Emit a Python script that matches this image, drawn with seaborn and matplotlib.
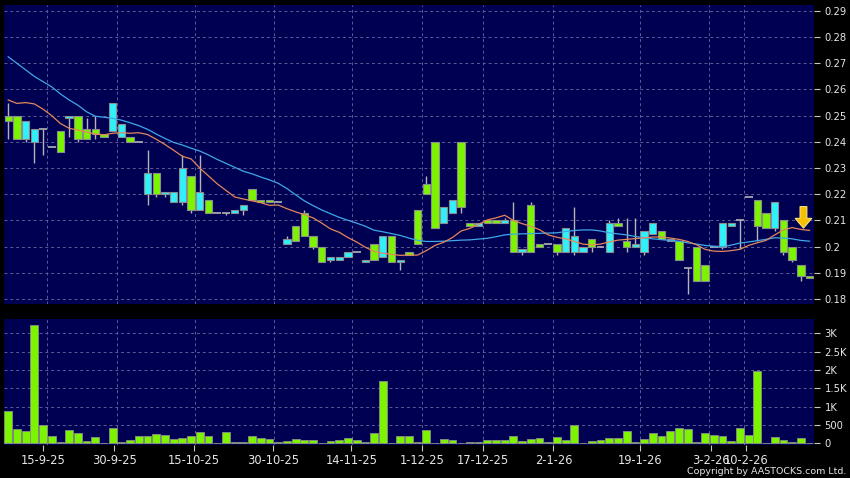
import numpy as np
import pandas as pd
import matplotlib
matplotlib.use("Agg")
import matplotlib.pyplot as plt
import seaborn as sns

# ---------------- data ----------------
opens = [0.250, 0.250, 0.241, 0.240, 0.245, 0.238, 0.244, 0.249, 0.250, 0.245,
         0.245, 0.243, 0.244, 0.242, 0.242, 0.240, 0.220, 0.228, 0.220, 0.217,
         0.217, 0.227, 0.214, 0.218, 0.213, 0.213, 0.213, 0.214, 0.222, 0.218,
         0.218, 0.217, 0.201, 0.208, 0.213, 0.204, 0.200, 0.195, 0.195, 0.196,
         0.198, 0.194, 0.201, 0.196, 0.204, 0.194, 0.198, 0.214, 0.224, 0.240,
         0.209, 0.213, 0.240, 0.209, 0.208, 0.210, 0.210, 0.209, 0.210, 0.198,
         0.216, 0.201, 0.201, 0.201, 0.198, 0.198, 0.198, 0.203, 0.200, 0.198,
         0.209, 0.202, 0.200, 0.198, 0.205, 0.206, 0.202, 0.202, 0.192, 0.200,
         0.193, 0.200, 0.200, 0.208, 0.210, 0.219, 0.218, 0.213, 0.207, 0.210,
         0.200, 0.193, 0.189]
closes = [0.248, 0.241, 0.248, 0.245, 0.245, 0.238, 0.236, 0.250, 0.241, 0.241,
          0.243, 0.242, 0.255, 0.247, 0.240, 0.240, 0.228, 0.220, 0.221, 0.221,
          0.230, 0.214, 0.221, 0.213, 0.213, 0.213, 0.214, 0.216, 0.218, 0.217,
          0.217, 0.217, 0.203, 0.202, 0.204, 0.200, 0.194, 0.196, 0.196, 0.198,
          0.198, 0.195, 0.195, 0.204, 0.194, 0.195, 0.197, 0.201, 0.220, 0.207,
          0.215, 0.218, 0.215, 0.208, 0.209, 0.209, 0.209, 0.210, 0.198, 0.199,
          0.198, 0.200, 0.201, 0.198, 0.207, 0.204, 0.200, 0.200, 0.200, 0.209,
          0.208, 0.200, 0.201, 0.206, 0.209, 0.203, 0.203, 0.195, 0.192, 0.187,
          0.187, 0.200, 0.209, 0.209, 0.210, 0.219, 0.208, 0.207, 0.217, 0.198,
          0.195, 0.189, 0.188]
highs = [0.255, 0.250, 0.248, 0.245, 0.245, 0.238, 0.244, 0.250, 0.250, 0.249,
         0.250, 0.243, 0.255, 0.247, 0.242, 0.240, 0.237, 0.228, 0.221, 0.221,
         0.235, 0.227, 0.235, 0.218, 0.213, 0.213, 0.214, 0.216, 0.222, 0.218,
         0.218, 0.217, 0.204, 0.208, 0.214, 0.204, 0.200, 0.196, 0.196, 0.198,
         0.198, 0.195, 0.201, 0.204, 0.204, 0.195, 0.198, 0.214, 0.227, 0.240,
         0.215, 0.218, 0.240, 0.209, 0.209, 0.210, 0.210, 0.211, 0.217, 0.199,
         0.217, 0.201, 0.201, 0.201, 0.207, 0.215, 0.200, 0.203, 0.200, 0.210,
         0.211, 0.211, 0.211, 0.206, 0.209, 0.206, 0.203, 0.202, 0.192, 0.200,
         0.193, 0.200, 0.209, 0.209, 0.210, 0.219, 0.218, 0.213, 0.217, 0.210,
         0.200, 0.193, 0.189]
lows = [0.241, 0.241, 0.240, 0.232, 0.235, 0.238, 0.236, 0.242, 0.240, 0.241,
        0.241, 0.242, 0.244, 0.242, 0.240, 0.240, 0.216, 0.219, 0.219, 0.217,
        0.216, 0.213, 0.214, 0.213, 0.213, 0.212, 0.213, 0.212, 0.218, 0.217,
        0.217, 0.217, 0.201, 0.202, 0.204, 0.199, 0.194, 0.194, 0.195, 0.196,
        0.198, 0.194, 0.195, 0.196, 0.194, 0.191, 0.197, 0.201, 0.220, 0.207,
        0.209, 0.213, 0.213, 0.208, 0.208, 0.209, 0.209, 0.209, 0.198, 0.197,
        0.198, 0.200, 0.201, 0.197, 0.198, 0.197, 0.198, 0.198, 0.200, 0.198,
        0.208, 0.198, 0.200, 0.197, 0.205, 0.203, 0.202, 0.195, 0.182, 0.187,
        0.187, 0.200, 0.199, 0.208, 0.199, 0.219, 0.202, 0.207, 0.206, 0.197,
        0.194, 0.187, 0.188]
volumes = [891, 391, 336, 3227, 500, 200, 27, 355, 291, 73,
           164, 0, 409, 27, 91, 191, 209, 255, 218, 118,
           136, 200, 300, 209, 0, 309, 27, 36, 200, 145,
           109, 36, 73, 109, 100, 100, 5, 55, 91, 145,
           82, 45, 273, 1700, 9, 209, 191, 45, 364, 0,
           109, 91, 0, 27, 27, 82, 100, 100, 200, 64,
           127, 155, 45, 182, 82, 509, 0, 64, 82, 136,
           145, 336, 27, 109, 291, 200, 336, 427, 400, 45,
           282, 218, 200, 55, 409, 227, 1982, 0, 173, 82,
           45, 136, 0]
ma_short = [0.2560, 0.2547, 0.2550, 0.2545, 0.2525, 0.2500, 0.2470, 0.2452, 0.2445, 0.2438,
            0.2430, 0.2427, 0.2433, 0.2435, 0.2433, 0.2435, 0.2428, 0.2410, 0.2390, 0.2368,
            0.2345, 0.2335, 0.2300, 0.2270, 0.2240, 0.2215, 0.2190, 0.2182, 0.2175, 0.2168,
            0.2158, 0.2159, 0.2145, 0.2133, 0.2122, 0.2110, 0.2090, 0.2068, 0.2055, 0.2035,
            0.2018, 0.1998, 0.1982, 0.1975, 0.1971, 0.1967, 0.1968, 0.1968, 0.1985, 0.2005,
            0.2017, 0.2035, 0.2060, 0.2070, 0.2085, 0.2102, 0.2110, 0.2120, 0.2100, 0.2088,
            0.2078, 0.2065, 0.2045, 0.2036, 0.2030, 0.2020, 0.2010, 0.2007, 0.2010, 0.2018,
            0.2025, 0.2028, 0.2031, 0.2034, 0.2037, 0.2037, 0.2033, 0.2028, 0.2020, 0.2008,
            0.1990, 0.1983, 0.1982, 0.1985, 0.1990, 0.2005, 0.2015, 0.2024, 0.2045, 0.2064,
            0.2073, 0.2066, 0.2062]
ma_long = [0.2725, 0.2700, 0.2675, 0.2650, 0.2630, 0.2610, 0.2583, 0.2560, 0.2540, 0.2515,
           0.2498, 0.2494, 0.2490, 0.2483, 0.2473, 0.2462, 0.2448, 0.2430, 0.2413, 0.2398,
           0.2388, 0.2376, 0.2365, 0.2350, 0.2333, 0.2318, 0.2303, 0.2288, 0.2278, 0.2266,
           0.2255, 0.2242, 0.2222, 0.2198, 0.2175, 0.2157, 0.2140, 0.2126, 0.2112, 0.2101,
           0.2090, 0.2078, 0.2063, 0.2057, 0.2050, 0.2043, 0.2033, 0.2024, 0.2020, 0.2020,
           0.2021, 0.2023, 0.2025, 0.2026, 0.2029, 0.2032, 0.2038, 0.2045, 0.2048, 0.2049,
           0.2050, 0.2051, 0.2052, 0.2053, 0.2058, 0.2062, 0.2064, 0.2064, 0.2060, 0.2053,
           0.2049, 0.2045, 0.2039, 0.2034, 0.2030, 0.2027, 0.2024, 0.2021, 0.2015, 0.2010,
           0.2005, 0.2002, 0.2000, 0.2006, 0.2014, 0.2018, 0.2023, 0.2028, 0.2034, 0.2033,
           0.2030, 0.2024, 0.2021]

date_labels = ["15-9-25", "30-9-25", "15-10-25", "30-10-25", "14-11-25", "1-12-25",
               "17-12-25", "2-1-26", "19-1-26", "3-2-26", "10-2-26"]
date_tick_pos = [4.0, 12.2, 21.3, 30.4, 39.4, 47.5, 54.5, 62.6, 72.5, 80.7, 84.7]
date_grid_pos = [4.5, 12.5, 21.5, 30.5, 39.5, 47.5, 54.5, 62.5, 72.5, 80.5, 84.5]
price_ticks = [0.18, 0.19, 0.20, 0.21, 0.22, 0.23, 0.24, 0.25, 0.26, 0.27, 0.28, 0.29]
vol_ticks = [0, 500, 1000, 1500, 2000, 2500, 3000]
vol_labels = ["0", "500", "1K", "1.5K", "2K", "2.5K", "3K"]
arrow_x, arrow_top, arrow_tip = 91.3, 0.2153, 0.2071

# ---------------- style ----------------
BG = "#000052"
GRID = "#5c5c96"
CYAN = "#30f0fa"
GREEN = "#7cf400"
EDGE = "#8c8c8c"
WICK = "#b4b4b4"
TXT = "#e6e6e6"
DASH = (0, (3, 3))

df = pd.DataFrame({"i": np.arange(len(opens)), "o": opens, "h": highs, "l": lows,
                   "c": closes, "v": volumes, "ma_s": ma_short, "ma_l": ma_long})
up = df[df.c > df.o]
dn = df[df.c < df.o]
fl = df[df.c == df.o]

fig = plt.figure(figsize=(8.5, 4.78), dpi=100, facecolor="black")
axp = fig.add_axes([4 / 850, 1 - 303.5 / 478, 810 / 850, 298.5 / 478])
axv = fig.add_axes([4 / 850, 1 - 444.5 / 478, 810 / 850, 125.5 / 478])

for ax in (axp, axv):
    ax.set_facecolor(BG)
    for s in ax.spines.values():
        s.set_visible(False)
    for g in date_grid_pos:
        ax.axvline(g, color=GRID, lw=0.7, ls=DASH, zorder=1)
    ax.set_axisbelow(True)
    ax.grid(axis="y", color=GRID, lw=0.7, ls=DASH)
    ax.grid(axis="x", visible=False)

# ---------------- price panel ----------------
axp.vlines(df.i, df.l, df.h, color=WICK, lw=1, zorder=2)
axp.bar(up.i, up.c - up.o, bottom=up.o, width=0.84, color=CYAN,
        edgecolor=EDGE, linewidth=0.8, zorder=3)
axp.bar(dn.i, dn.o - dn.c, bottom=dn.c, width=0.84, color=GREEN,
        edgecolor=EDGE, linewidth=0.8, zorder=3)
axp.hlines(fl.o, fl.i - 0.45, fl.i + 0.45, color=WICK, lw=1.2, zorder=3)

sns.lineplot(data=df, x="i", y="ma_l", color="#3fa8e8", lw=0.9, ax=axp, zorder=4)
sns.lineplot(data=df, x="i", y="ma_s", color="#e4875a", lw=0.9, ax=axp, zorder=4)

axp.annotate("", xy=(arrow_x, arrow_tip), xytext=(arrow_x, arrow_top),
             arrowprops=dict(arrowstyle="simple,head_length=0.5,head_width=0.85,tail_width=0.35",
                             mutation_scale=14, fc="#f5c000", ec="#ffe27a", lw=0.8,
                             shrinkA=0, shrinkB=0), zorder=6)

axp.set_xlim(-0.48, 92.51)
axp.set_ylim(0.17832, 0.29225)
axp.yaxis.tick_right()
axp.set_yticks(price_ticks)
axp.set_yticklabels([f"{v:g}" for v in price_ticks])
axp.set_xticks([])
axp.set_xlabel("")
axp.set_ylabel("")
axp.tick_params(axis="y", color="#c8c8c8", labelcolor=TXT, labelsize=7.2,
                length=4.5, width=0.8, pad=3)

# ---------------- volume panel ----------------
sns.barplot(data=df, x="i", y="v", native_scale=True, color=GREEN, saturation=1,
            edgecolor=EDGE, linewidth=0.6, width=0.9, errorbar=None, ax=axv, zorder=3)
axv.set_xlim(-0.48, 92.51)
axv.set_ylim(-30, 3390)
axv.yaxis.tick_right()
axv.set_yticks(vol_ticks)
axv.set_yticklabels(vol_labels)
axv.set_xticks(date_tick_pos)
axv.set_xticklabels(date_labels)
axv.set_xlabel("")
axv.set_ylabel("")
axv.tick_params(axis="y", color="#c8c8c8", labelcolor=TXT, labelsize=7.2,
                length=4.5, width=0.8, pad=3)
axv.tick_params(axis="x", color="#c8c8c8", labelcolor=TXT, labelsize=8.3,
                length=4.5, width=0.8, pad=2.5)

fig.text(846 / 850, 1 - 471 / 478, "Copyright by AASTOCKS.com Ltd.", ha="right",
         va="center", fontsize=6.8, color=TXT)

fig.savefig("out.png", dpi=100, facecolor="black")
